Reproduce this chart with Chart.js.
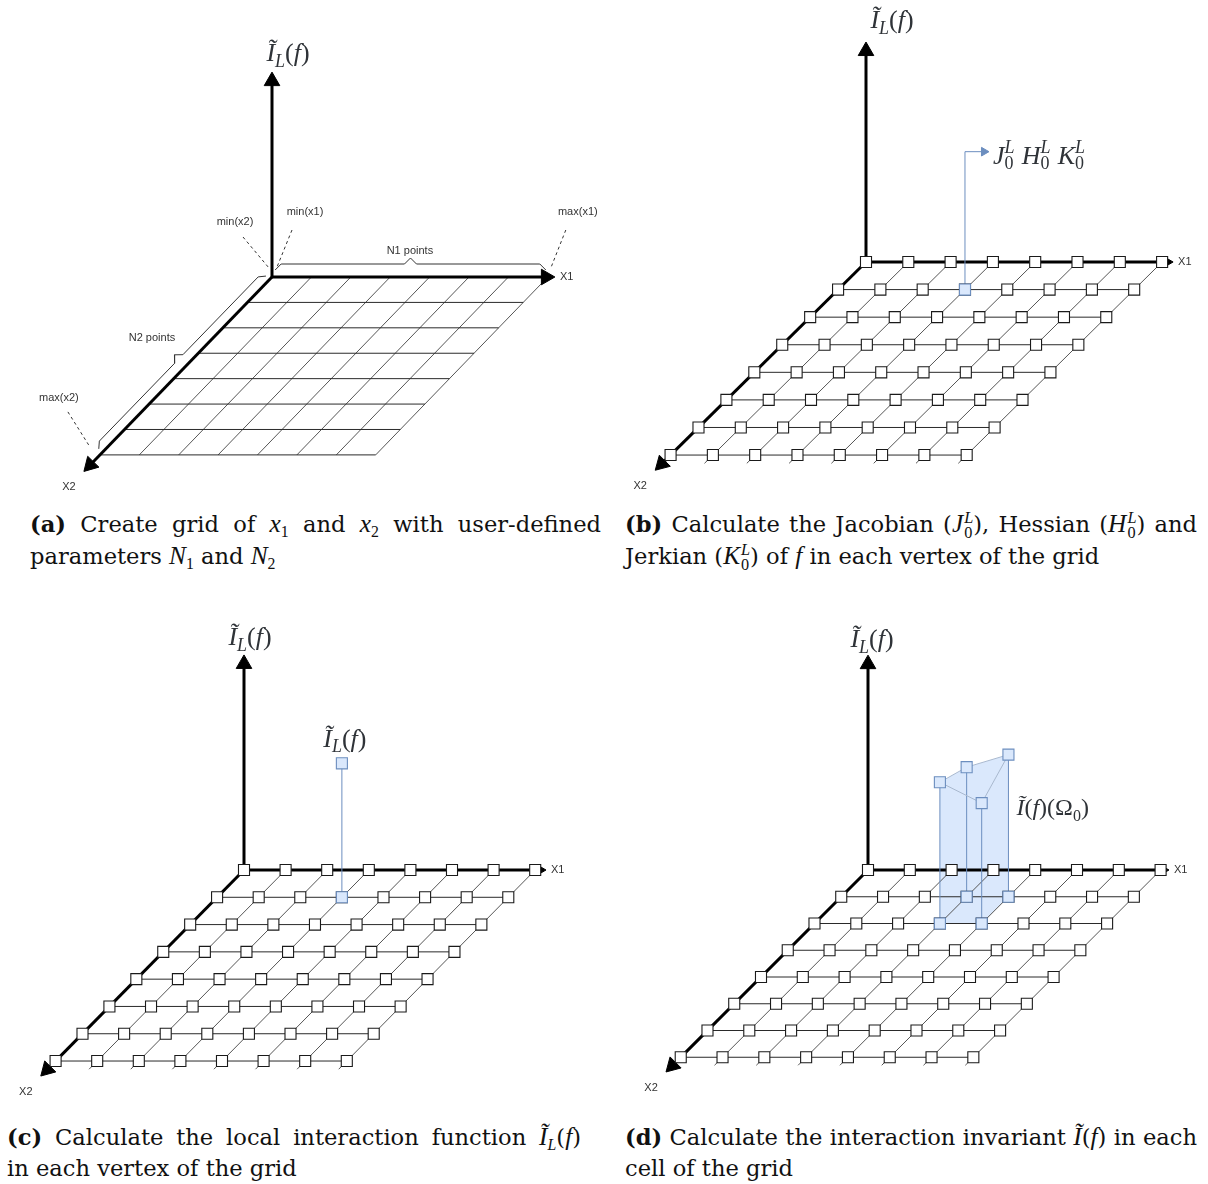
<!DOCTYPE html>
<html>
<head>
<meta charset="utf-8">
<script src="https://cdn.jsdelivr.net/npm/chart.js@4.4.1/dist/chart.umd.min.js"></script>
<style>
  body { margin: 0; background: #fff; }
  #page { position: relative; width: 1208px; height: 1184px; overflow: hidden; }
  .panel { position: absolute; }
  .cap { position: absolute; font-family: "DejaVu Serif", serif; font-size: 22.6px; line-height: 32px; color: #111; }
  .cap .l1 { text-align: justify; text-align-last: justify; height: 32px; }
  .cap .l2 { height: 32px; }
  .cap b { font-weight: bold; }
  .m { font-family: "Liberation Serif", serif; font-style: italic; font-size: 1.12em; }
  .cap sub { font-size: 0.7em; vertical-align: -0.3em; line-height: 0; font-family: "Liberation Serif", serif; }
  .ss { display: inline-flex; flex-direction: column; vertical-align: 0.55em; font-family: "Liberation Serif", serif; font-size: 0.72em; line-height: 0.9em; margin-left: 1px; }
  .ss i { font-style: italic; }
</style>
</head>
<body>
<div id="page">
  <div class="panel" style="left:0;top:0"><canvas id="ca" width="604" height="500"></canvas></div>
  <div class="panel" style="left:604px;top:0"><canvas id="cb" width="604" height="500"></canvas></div>
  <div class="panel" style="left:0;top:600px"><canvas id="cc" width="604" height="505"></canvas></div>
  <div class="panel" style="left:604px;top:600px"><canvas id="cd" width="604" height="505"></canvas></div>

  <div class="cap" style="left:30px;top:507px;width:571px">
    <div class="l1"><b>(a)</b> Create grid of <span class="m">x</span><sub>1</sub> and <span class="m">x</span><sub>2</sub> with user-defined</div>
    <div class="l2">parameters <span class="m">N</span><sub>1</sub> and <span class="m">N</span><sub>2</sub></div>
  </div>
  <div class="cap" style="left:625px;top:507px;width:572px">
    <div class="l1"><b>(b)</b> Calculate the Jacobian (<span class="m">J</span><span class="ss"><i>L</i><span>0</span></span>), Hessian (<span class="m">H</span><span class="ss"><i>L</i><span>0</span></span>) and</div>
    <div class="l2">Jerkian (<span class="m">K</span><span class="ss"><i>L</i><span>0</span></span>) of <span class="m">f</span> in each vertex of the grid</div>
  </div>
  <div class="cap" style="left:7px;top:1120px;width:574px">
    <div class="l1"><b>(c)</b> Calculate the local interaction function <span class="m">Ĩ</span><sub><i>L</i></sub>(<span class="m">f</span>)</div>
    <div class="l2">in each vertex of the grid</div>
  </div>
  <div class="cap" style="left:625px;top:1120px;width:572px">
    <div class="l1"><b>(d)</b> Calculate the interaction invariant <span class="m">Ĩ</span>(<span class="m">f</span>) in each</div>
    <div class="l2">cell of the grid</div>
  </div>
</div>
<script>
  // grid vertices, as indices along x1 (N1 points) and x2 (N2 points)
  const x1Points = [0, 1, 2, 3, 4, 5, 6, 7];
  const x2Points = [0, 1, 2, 3, 4, 5, 6, 7];

  // (b) vertex where J, H, K are computed, and height of its leader
  const derivVertex = [3, 1];
  const derivLeader = 3.26;

  // (c) local interaction value at one vertex
  const localVertex = [3, 1];
  const localValue = 3.22;

  // (d) one cell: x1, x2 of its corners and the value at each corner
  const cellX1 = [3, 4, 4, 3];
  const cellX2 = [1, 1, 2, 2];
  const cellZ = [3.1, 3.4, 2.88, 3.38];

  const BLUE = '#6c8ebf', BLUE_FILL = '#dae8fc';
  const FAM_MATH = '"Liberation Serif", "DejaVu Serif", serif';
  const FAM_SANS = '"Liberation Sans", Arial, sans-serif';

  // panel layout: origin pixel, pixels per grid step, oblique shift of x2
  const panels = {
    a: { w: 604, h: 500, ox: 272, oy: 277, u: 39.4, sx: -0.624, sy: -0.645, zTop: 5.2, x1Tip: 7.18, x2Tip: 7.65, squares: false },
    b: { w: 604, h: 500, ox: 262, oy: 262, u: 42.3, sx: -0.66, sy: -0.652, zTop: 5.2, x1Tip: 7.26, x2Tip: 7.55, squares: true },
    c: { w: 604, h: 505, ox: 244, oy: 270, u: 41.6, sx: -0.647, sy: -0.656, zTop: 5.17, x1Tip: 7.26, x2Tip: 7.55, squares: true },
    d: { w: 604, h: 505, ox: 264, oy: 270, u: 41.8, sx: -0.64, sy: -0.64, zTop: 5.14, x1Tip: 7.2, x2Tip: 7.55, squares: true }
  };

  function P(p, i, j, z) { return { x: i + j * p.sx, y: (z || 0) + j * p.sy }; }
  function shift(p, pt, dx, dy) { return { x: pt.x + dx / p.u, y: pt.y - dy / p.u }; }

  function seg(pts, color, width, dash) {
    return { data: pts, showLine: true, borderColor: color, borderWidth: width, borderDash: dash || [],
             pointRadius: 0, fill: false, tension: 0 };
  }
  function marks(pts, style, r, bg, border, bw, rot) {
    return { data: pts, showLine: false, pointStyle: style, pointRadius: r, pointBackgroundColor: bg,
             pointBorderColor: border, pointBorderWidth: bw, pointRotation: rot || 0 };
  }
  function arrow(p, from, to, r, color, width) {
    const dx = to.x - from.x, dy = to.y - from.y, L = Math.hypot(dx, dy);
    const ux = dx / L, uy = dy / L;
    const c = { x: to.x - ux * r / p.u, y: to.y - uy * r / p.u };
    const rot = Math.atan2(ux, uy) * 180 / Math.PI;
    return [seg([from, c], color, width), marks([c], 'triangle', r, color, color, 1, rot)];
  }
  function brace(p, a, b, nx, ny, e, h1, h2) {
    const dx = b.x - a.x, dy = b.y - a.y, L = Math.hypot(dx, dy), ux = dx / L, uy = dy / L;
    const c = 6 / p.u;
    const at = (t, h) => ({ x: a.x + ux * t + nx * h / p.u, y: a.y + uy * t + ny * h / p.u });
    return seg([at(0, e), at(c, h1), at(L / 2 - c, h1), at(L / 2, h2), at(L / 2 + c, h1), at(L - c, h1), at(L, e)], '#333', 1);
  }

  function gridSets(p) {
    const sets = [];
    const n1 = x1Points[x1Points.length - 1], n2 = x2Points[x2Points.length - 1];
    const stub = p.squares ? 0.3 : 0;
    x1Points.forEach(i => { if (i > 0) sets.push(seg([P(p, i, 0), P(p, i, n2 + stub)], '#555', 1)); });
    x2Points.forEach(j => { if (j > 0) sets.push(seg([P(p, 0, j), P(p, n1, j)], '#2a2a2a', 1)); });
    return sets;
  }
  function axesSets(p) {
    const o = P(p, 0, 0, 0);
    const n1 = x1Points[x1Points.length - 1];
    let sets = [].concat(arrow(p, o, P(p, 0, 0, p.zTop), 9, '#000', 3),
                         arrow(p, o, P(p, 0, p.x2Tip, 0), 9, '#000', 3));
    if (p.squares) {
      sets.push(seg([o, P(p, n1, 0)], '#000', 3));
      sets = sets.concat(arrow(p, P(p, n1, 0), P(p, p.x1Tip, 0), 5, '#000', 1.5));
    } else {
      sets = sets.concat(arrow(p, o, P(p, p.x1Tip, 0), 9, '#000', 3));
    }
    return sets;
  }
  function vertexSet(p) {
    const pts = [];
    x2Points.forEach(j => x1Points.forEach(i => pts.push(P(p, i, j))));
    return marks(pts, 'rect', 7.8, '#fff', '#1a1a1a', 1.1);
  }
  function hiSquares(pts) { return marks(pts, 'rect', 7.8, BLUE_FILL, BLUE, 1.1); }

  function axisLabels(p, zdx, zdy) {
    return [
      { math: ['i:Ĩ', 'sub:L', 'r:(', 'i:f', 'r:)'], at: P(p, 0, 0, p.zTop), dx: zdx, dy: zdy, size: 26, align: 'center' },
      { text: 'X1', at: P(p, p.x1Tip, 0), dx: 5, dy: 0, align: 'left' },
      { text: 'X2', at: P(p, 0, p.x2Tip), dx: -15, dy: 16, align: 'center' }
    ];
  }

  // ---- math / text drawing plugin
  function fontFor(k, size) {
    const sm = Math.round(size * 0.68);
    if (k === 'i') return 'italic ' + size + 'px ' + FAM_MATH;
    if (k === 'r') return size + 'px ' + FAM_MATH;
    if (k === 'sub') return 'italic ' + sm + 'px ' + FAM_MATH;
    return sm + 'px ' + FAM_MATH;
  }
  function drawMath(ctx, runs, x, y, size, color, align) {
    const sm = Math.round(size * 0.68);
    const parts = runs.map(r => {
      const k = r.slice(0, r.indexOf(':')), t = r.slice(r.indexOf(':') + 1);
      let w;
      if (k === 'ss') {
        const ab = t.split('|');
        ctx.font = 'italic ' + sm + 'px ' + FAM_MATH; const wa = ctx.measureText(ab[0]).width;
        ctx.font = sm + 'px ' + FAM_MATH; const wb = ctx.measureText(ab[1]).width;
        w = Math.max(wa, wb) + 2;
      } else {
        ctx.font = fontFor(k, size); w = ctx.measureText(t).width;
      }
      return { k, t, w };
    });
    const total = parts.reduce((s, q) => s + q.w, 0);
    let cx = align === 'center' ? x - total / 2 : x;
    const base = y + size * 0.32;
    ctx.fillStyle = color; ctx.textAlign = 'left'; ctx.textBaseline = 'alphabetic';
    parts.forEach(q => {
      if (q.k === 'ss') {
        const ab = q.t.split('|');
        ctx.font = 'italic ' + sm + 'px ' + FAM_MATH; ctx.fillText(ab[0], cx, base - size * 0.42);
        ctx.font = sm + 'px ' + FAM_MATH; ctx.fillText(ab[1], cx, base + size * 0.2);
      } else {
        ctx.font = fontFor(q.k, size);
        ctx.fillText(q.t, cx, q.k.indexOf('sub') === 0 ? base + size * 0.22 : base);
      }
      cx += q.w;
    });
  }
  const panelText = {
    id: 'panelText',
    afterDatasetsDraw(chart, args, opts) {
      const ctx = chart.ctx, xs = chart.scales.x, ys = chart.scales.y;
      ctx.save();
      (opts.items || []).forEach(it => {
        const x = xs.getPixelForValue(it.at.x) + (it.dx || 0);
        const y = ys.getPixelForValue(it.at.y) + (it.dy || 0);
        if (it.math) {
          drawMath(ctx, it.math, x, y, it.size || 22, it.color || '#2f3338', it.align || 'left');
        } else {
          ctx.font = (it.font || '11px') + ' ' + FAM_SANS;
          ctx.fillStyle = it.color || '#333';
          ctx.textAlign = it.align || 'left';
          ctx.textBaseline = 'middle';
          ctx.fillText(it.text, x, y);
        }
      });
      ctx.restore();
    }
  };

  function makeChart(id, p, sets, items) {
    sets.forEach((s, k) => { s.order = -k; });
    return new Chart(document.getElementById(id).getContext('2d'), {
      type: 'scatter',
      data: { datasets: sets },
      options: {
        responsive: false,
        animation: false,
        events: [],
        layout: { padding: 0, autoPadding: false },
        plugins: { legend: { display: false }, tooltip: { enabled: false }, panelText: { items: items } },
        scales: {
          x: { type: 'linear', display: false, min: -p.ox / p.u, max: (p.w - p.ox) / p.u },
          y: { type: 'linear', display: false, min: -(p.h - p.oy) / p.u, max: p.oy / p.u }
        }
      },
      plugins: [panelText]
    });
  }

  // ---- (a) plain grid with braces and range labels
  (function () {
    const p = panels.a;
    const n1 = x1Points[x1Points.length - 1], n2 = x2Points[x2Points.length - 1];
    const o = P(p, 0, 0), e1 = P(p, n1, 0), e2 = P(p, 0, n2);
    const d2 = Math.hypot(p.sx, p.sy), nx = p.sy / d2, ny = -p.sx / d2;
    const sets = gridSets(p).concat(axesSets(p), [
      brace(p, P(p, 0.08, 0), P(p, n1 - 0.05, 0), 0, 1, 7, 13, 19),
      brace(p, P(p, 0, 0.1), P(p, 0, n2 - 0.1), nx, ny, 5, 10, 16),
      seg([shift(p, o, 20, -47), shift(p, o, 5, -10)], '#333', 1, [3, 3]),
      seg([shift(p, o, -29, -40), shift(p, o, -3, -9)], '#333', 1, [3, 3]),
      seg([shift(p, e1, 18, -47), shift(p, e1, 3, -9)], '#333', 1, [3, 3]),
      seg([shift(p, e2, -32, -43), shift(p, e2, -10, -8)], '#333', 1, [3, 3])
    ]);
    const items = axisLabels(p, 16, -19).concat([
      { text: 'min(x1)', at: o, dx: 33, dy: -65, align: 'center' },
      { text: 'min(x2)', at: o, dx: -37, dy: -55, align: 'center' },
      { text: 'max(x1)', at: e1, dx: 30, dy: -65, align: 'center' },
      { text: 'max(x2)', at: e2, dx: -41, dy: -57, align: 'center' },
      { text: 'N1 points', at: P(p, n1 / 2, 0), dx: 0, dy: -26, align: 'center' },
      { text: 'N2 points', at: P(p, 0, n2 / 2), dx: -34, dy: -28, align: 'center' }
    ]);
    makeChart('ca', p, sets, items);
  })();

  // ---- (b) derivatives at a vertex
  (function () {
    const p = panels.b;
    const [vi, vj] = derivVertex;
    const base = P(p, vi, vj, 0), top = P(p, vi, vj, derivLeader);
    const tip = shift(p, top, 24, 0);
    const sets = gridSets(p).concat(axesSets(p), [seg([base, top], BLUE, 1)],
      arrow(p, top, tip, 5, BLUE, 1), [vertexSet(p), hiSquares([base])]);
    const items = axisLabels(p, 26, -22).concat([
      { math: ['i:J', 'ss:L|0', 'r:\u2009', 'i:H', 'ss:L|0', 'r:\u2009', 'i:K', 'ss:L|0'], at: tip, dx: 4, dy: 4, size: 26, align: 'left' }
    ]);
    makeChart('cb', p, sets, items);
  })();

  // ---- (c) local interaction value above a vertex
  (function () {
    const p = panels.c;
    const [vi, vj] = localVertex;
    const base = P(p, vi, vj, 0), top = P(p, vi, vj, localValue);
    const sets = gridSets(p).concat(axesSets(p), [seg([base, top], BLUE, 1), vertexSet(p), hiSquares([base, top])]);
    const items = axisLabels(p, 6, -18).concat([
      { math: ['i:Ĩ', 'sub:L', 'r:(', 'i:f', 'r:)'], at: top, dx: 3, dy: -25, size: 26, align: 'center' }
    ]);
    makeChart('cc', p, sets, items);
  })();

  // ---- (d) interaction invariant over one cell
  (function () {
    const p = panels.d;
    const bases = cellX1.map((i, k) => P(p, i, cellX2[k], 0));
    const tops = cellX1.map((i, k) => P(p, i, cellX2[k], cellZ[k]));
    // outline of the prism seen from the front: corners 3,0,1 on top, then 1,2,3 at the base
    const shape = [tops[3], tops[0], tops[1], bases[1], bases[2], bases[3], tops[3]];
    const fillSet = { data: shape, showLine: true, borderWidth: 0, borderColor: 'rgba(0,0,0,0)', pointRadius: 0,
                      fill: 'shape', backgroundColor: BLUE_FILL, tension: 0 };
    const verticals = bases.map((b, k) => seg([b, tops[k]], BLUE, 1));
    const roof = seg([tops[0], tops[1], tops[2], tops[3], tops[0]], '#a9b9cf', 1);
    const sets = [fillSet].concat(gridSets(p), axesSets(p), verticals, [roof, vertexSet(p), hiSquares(bases), hiSquares(tops)]);
    const items = axisLabels(p, 4, -16).concat([
      { math: ['i:Ĩ', 'r:(', 'i:f', 'r:)(', 'r:Ω', 'subr:0', 'r:)'], at: bases[1], dx: 8, dy: -89, size: 24, align: 'left' }
    ]);
    makeChart('cd', p, sets, items);
  })();
</script>
</body>
</html>
